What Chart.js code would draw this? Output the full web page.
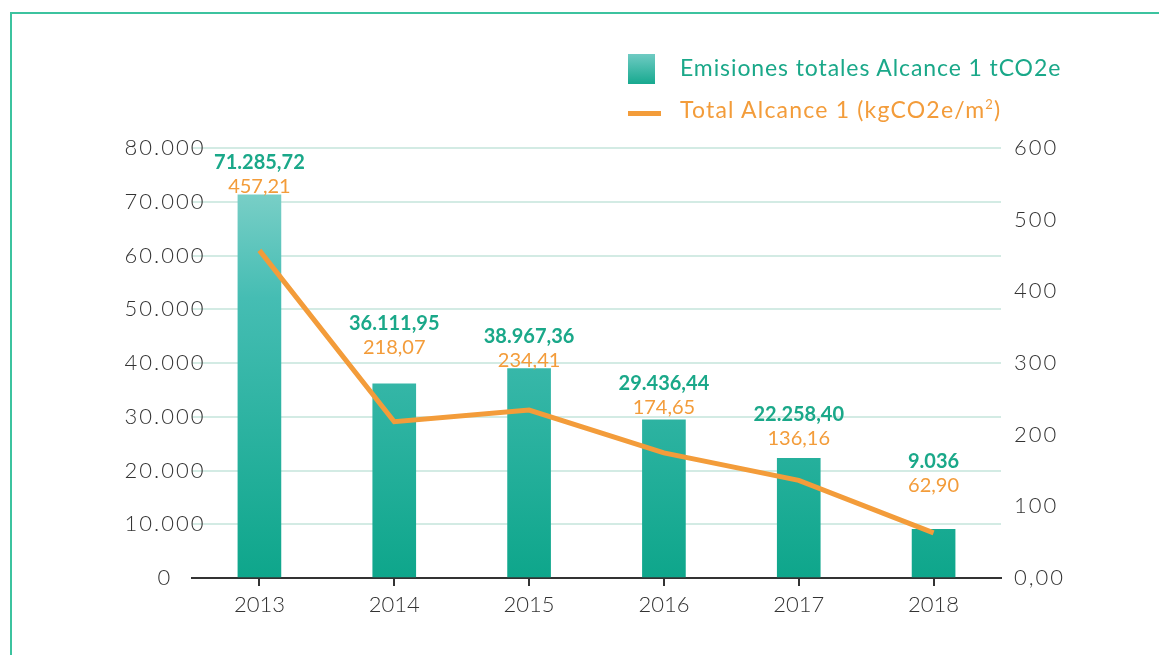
<!DOCTYPE html>
<html>
<head>
<meta charset="utf-8">
<style>
  html, body { margin: 0; padding: 0; background: #fff; }
  #wrap { position: relative; width: 1159px; height: 655px; overflow: hidden; font-family: Lato, "Open Sans", sans-serif; }
  #frame { position: absolute; left: 10px; top: 12px; width: 1200px; height: 700px; border-left: 2px solid #3cc39f; border-top: 2px solid #3cc39f; }
  #emisiones { position: absolute; left: 0; top: 0; }
  .leg { position: absolute; font-size: 23px; letter-spacing: 0.9px; white-space: nowrap; }
  .leg .box { position: absolute; left: 0; top: 2px; width: 27px; height: 30px; background: linear-gradient(#6fcbc3, #17a98f); }
  .leg .ln { position: absolute; left: 0; width: 33px; height: 5px; background: #f39c3a; }
</style>
</head>
<body>
<div id="wrap">
  <div id="frame"></div>
  <canvas id="emisiones" width="1159" height="655"></canvas>
  <div class="leg" style="left:628px; top:52px; color:#1aa889;"><span class="box"></span><span style="margin-left:52px; line-height:30px;">Emisiones totales Alcance 1 tCO2e</span></div>
  <div class="leg" style="left:628px; top:89px; color:#f39c3a;"><span class="ln" style="top:22px;"></span><span style="margin-left:52px; line-height:30px; letter-spacing:1.2px;">Total Alcance 1 (kgCO2e/m<sup style="font-size:13px;">2</sup>)</span></div>
</div>
<script src="https://cdn.jsdelivr.net/npm/chart.js"></script>
<script>
const years = ["2013", "2014", "2015", "2016", "2017", "2018"];
const emisionesTotales = [71285.72, 36111.95, 38967.36, 29436.44, 22258.40, 9036];
const emisionesLabels = ["71.285,72", "36.111,95", "38.967,36", "29.436,44", "22.258,40", "9.036"];
const totalPorM2 = [457.21, 218.07, 234.41, 174.65, 136.16, 62.90];
const totalLabels = ["457,21", "218,07", "234,41", "174,65", "136,16", "62,90"];

const GREEN = "#1aa889";
const ORANGE = "#f39c3a";
const TXT = "#333333";
const FONT = "Lato, 'Open Sans', sans-serif";

// etiquetas encima de cada barra (esquivando la linea) + etiquetas de los ejes verticales
const valueLabels = {
    id: "valueLabels",
    afterDatasetsDraw(chart) {
        const ctx = chart.ctx;
        const bars = chart.getDatasetMeta(1).data;
        const pts = chart.getDatasetMeta(0).data;
        ctx.save();
        ctx.textAlign = "center";
        ctx.textBaseline = "middle";
        bars.forEach((bar, i) => {
            let top = bar.y - 32;
            if (i > 0) {
                const a = pts[i - 1], b = pts[i];
                const x = bar.x - 30;
                const lineY = a.y + (b.y - a.y) * (x - a.x) / (b.x - a.x);
                top = Math.min(top, lineY - 60);
            }
            ctx.font = "bold 20px " + FONT;
            ctx.fillStyle = GREEN;
            ctx.fillText(emisionesLabels[i], bar.x, top);
            ctx.font = "20px " + FONT;
            ctx.fillStyle = ORANGE;
            ctx.fillText(totalLabels[i], bar.x, top + 24);
        });

        ctx.font = "300 22px " + FONT;
        ctx.letterSpacing = "2px";
        ctx.fillStyle = TXT;
        const y = chart.scales.y;
        y.ticks.forEach((t) => {
            ctx.fillText(t.value.toLocaleString("de-DE"), 165, y.getPixelForValue(t.value));
        });
        const y1 = chart.scales.y1;
        ctx.textAlign = "left";
        y1.ticks.forEach((t) => {
            ctx.fillText(t.value === 0 ? "0,00" : String(t.value), chart.chartArea.right + 13, y1.getPixelForValue(t.value));
        });
        ctx.restore();
    }
};

const ctx = document.getElementById("emisiones").getContext("2d");

new Chart(ctx, {
    type: "bar",
    data: {
        labels: years,
        datasets: [{
            type: "line",
            label: "Total Alcance 1 (kgCO2e/m2)",
            data: totalPorM2,
            yAxisID: "y1",
            borderColor: ORANGE,
            borderWidth: 5,
            pointRadius: 0,
            tension: 0,
            order: 0
        }, {
            type: "bar",
            label: "Emisiones totales Alcance 1 tCO2e",
            data: emisionesTotales,
            yAxisID: "y",
            barThickness: 43,
            order: 1,
            backgroundColor: (c) => {
                const area = c.chart.chartArea;
                if (!area) return "#2ab5a3";
                const g = c.chart.ctx.createLinearGradient(0, area.top, 0, area.bottom);
                g.addColorStop(0, "#8fd6cf");
                g.addColorStop(0.35, "#45bdb3");
                g.addColorStop(1, "#0ea68b");
                return g;
            }
        }]
    },
    options: {
        responsive: false,
        animation: false,
        layout: { padding: { top: 148, bottom: 0, left: 0, right: 0 } },
        plugins: {
            legend: { display: false },
            tooltip: { enabled: false }
        },
        scales: {
            x: {
                grid: { offset: false, drawOnChartArea: false, drawTicks: true, tickLength: 8, color: TXT, lineWidth: 2 },
                border: { display: true, color: TXT, width: 2 },
                ticks: { color: TXT, font: { family: FONT, size: 22, weight: "300" }, padding: 6 },
                afterFit: (s) => { s.height = 77; }
            },
            y: {
                position: "left",
                min: 0,
                max: 80000,
                grid: { color: "#d3ebe4", lineWidth: 2, drawTicks: false, tickLength: 0 },
                border: { display: false },
                ticks: { stepSize: 10000, display: false },
                afterFit: (s) => { s.width = 192; }
            },
            y1: {
                position: "right",
                min: 0,
                max: 600,
                grid: { drawOnChartArea: false, drawTicks: false },
                border: { display: false },
                ticks: { stepSize: 100, display: false },
                afterFit: (s) => { s.width = 158; }
            }
        }
    },
    plugins: [valueLabels]
});
</script>
</body>
</html>
